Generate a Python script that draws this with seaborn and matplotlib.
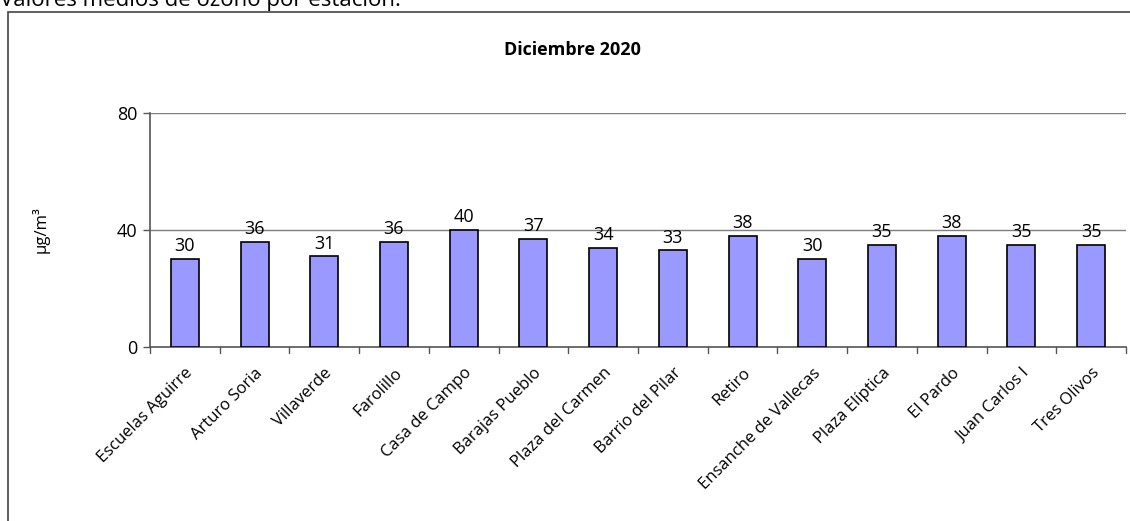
import numpy as np
import pandas as pd
import matplotlib
matplotlib.use("Agg")
import matplotlib.pyplot as plt
from matplotlib.patches import Rectangle
import seaborn as sns

# Datos: valores medios de ozono por estacion (Diciembre 2020)
estaciones = ["Escuelas Aguirre", "Arturo Soria", "Villaverde", "Farolillo",
              "Casa de Campo", "Barajas Pueblo", "Plaza del Carmen",
              "Barrio del Pilar", "Retiro", "Ensanche de Vallecas",
              "Plaza Elíptica", "El Pardo", "Juan Carlos I", "Tres Olivos"]
valores = [30, 36, 31, 36, 40, 37, 34, 33, 38, 30, 35, 38, 35, 35]
yticks = [0, 40, 80]

df = pd.DataFrame({"estacion": estaciones, "valor": valores})

sns.set_style("white")
plt.rcParams['font.family'] = ['Open Sans', 'DejaVu Sans']
plt.rcParams['text.color'] = 'black'
plt.rcParams['xtick.color'] = 'black'
plt.rcParams['ytick.color'] = 'black'
plt.rcParams['axes.labelcolor'] = 'black'

fig = plt.figure(figsize=(11.3, 5.21), dpi=100)
W, H = 1130, 521
ax = fig.add_axes([150 / W, 1 - 347 / H, (1126 - 150) / W, (347 - 113) / H])

sns.barplot(data=df, x="estacion", y="valor", color="#9999FF", width=0.4,
            edgecolor="black", linewidth=1.2, saturation=1, ax=ax, zorder=3)

ax.set_ylim(0, 80)
ax.set_xlim(-0.5, len(estaciones) - 0.5)
ax.set_yticks(yticks)
ax.set_yticklabels([str(t) for t in yticks], fontsize=13)
for t in yticks[1:]:
    ax.axhline(t, color="#7f7f7f", linewidth=1, zorder=1)

# ticks entre categorias
ax.set_xticks(np.arange(len(estaciones)))
ax.set_xticklabels(estaciones, rotation=45, ha="right", rotation_mode="anchor", fontsize=12)
ax.tick_params(axis="x", length=0, pad=13)
ax.tick_params(axis="y", length=5, width=1, color="#555555", pad=4, left=True)
for b in np.arange(len(estaciones) + 1) - 0.5:
    ax.plot([b, b], [0, -2.2], color="#555555", linewidth=1, clip_on=False, zorder=4)

for s in ["top", "right"]:
    ax.spines[s].set_visible(False)
for s in ["left", "bottom"]:
    ax.spines[s].set_color("#555555")
    ax.spines[s].set_linewidth(1.2)

for i, v in enumerate(valores):
    ax.text(i, v + 1.3, str(v), ha="center", va="bottom", fontsize=13, zorder=5)

ax.set_xlabel("")
ax.set_ylabel("µg/m³", fontsize=12)
ax.yaxis.set_label_coords(-100 / (1126 - 150), 0.5)

fig.text(572 / W, 1 - 50 / H, "Diciembre 2020", ha="center", va="center",
         fontsize=13, fontweight="bold")

# texto superior cortado y marco
fig.text(0.0, 1 - 6 / H, "Valores medios de ozono por estación:", ha="left",
         va="baseline", fontsize=16)
fig.patches.append(Rectangle((8 / W, -0.05), 1.2, 1 - 12 / H + 0.05,
                             transform=fig.transFigure, fill=False,
                             edgecolor="#444444", linewidth=1.2))

fig.savefig("out.png", dpi=100)
